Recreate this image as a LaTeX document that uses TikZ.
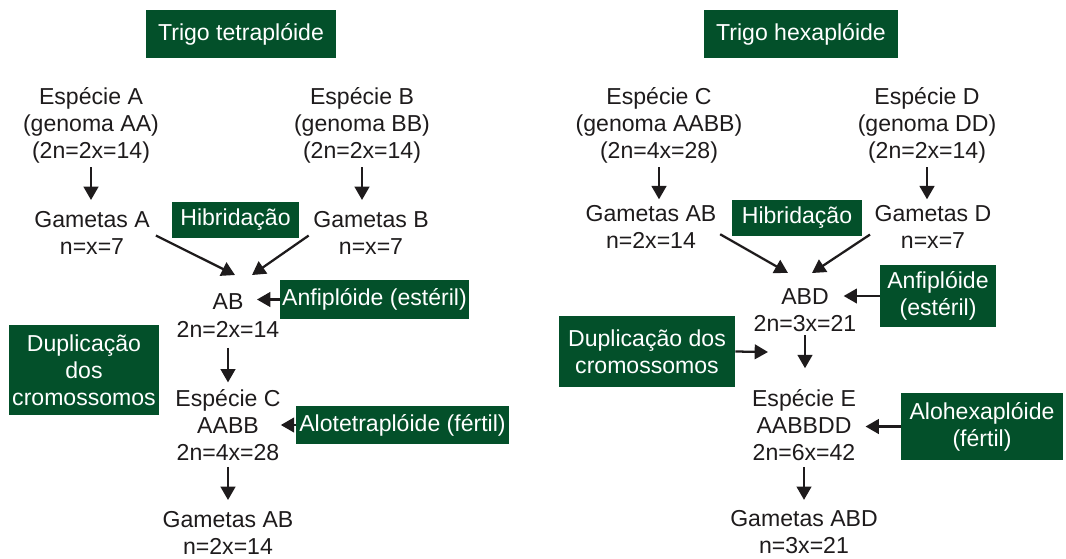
\documentclass[tikz,border=0pt]{standalone}
\usepackage{fontspec}
\setmainfont{Liberation Sans}
\usepackage{xcolor}
\usepackage{tikz}
\usetikzlibrary{arrows.meta}
\definecolor{wgreen}{HTML}{03502A}
\definecolor{wtext}{HTML}{1E1B1C}

\begin{document}
\begin{tikzpicture}[x=0.75pt, y=-0.75pt,
  every node/.style={font=\fontsize{17.3}{20.3}\selectfont, text=wtext, inner sep=0pt, align=center},
  gbox/.style={fill=wgreen, text=white},
  arr/.style={draw=wtext, line width=1.7pt, -{Triangle[length=10pt, width=11pt]}}]
\useasboundingbox (0,0) rectangle (1066,558);

% tetraploid wheat
\node[gbox, minimum width=142.5pt, minimum height=36pt] (ttlT) at (241,34) {Trigo tetraplóide};
\node (espA) at (91,125) {Espécie A\\(genoma AA)\\(2n=2x=14)};
\node (espB) at (362,125) {Espécie B\\(genoma BB)\\(2n=2x=14)};
\node (gamA) at (92,232.5) {Gametas A\\n=x=7};
\node (gamB) at (371,232.5) {Gametas B\\n=x=7};
\node[gbox, minimum width=95.25pt, minimum height=27pt] (hibL) at (235.5,220) {Hibridação};
\node (ab) at (228,302) {AB};
\node (abn) at (228,329) {2n=2x=14};
\node[gbox, minimum width=141.75pt, minimum height=29.25pt] (anfL) at (374.5,299.5) {Anfiplóide (estéril)};
\node[gbox, minimum width=112.5pt, minimum height=67.5pt] (dupL) at (84,370) {Duplicação\\dos\\cromossomos};
\node (espCL) at (228,425) {Espécie C\\AABB\\2n=4x=28};
\node[gbox, minimum width=159.75pt, minimum height=28.5pt] (aloL) at (402.5,425) {Alotetraplóide (fértil)};
\node (gamABL) at (228,532.5) {Gametas AB\\n=2x=14};
\coordinate (abInL) at (235,275);
\coordinate (abInR) at (252,275);

\draw[arr, shorten <=3pt, shorten >=8pt] (espA.south) -- (espA.south |- gamA.north);
\draw[arr, shorten <=3pt, shorten >=8pt] (espB.south) -- (espB.south |- gamB.north);
\draw[arr, shorten <=5pt] (gamA.east) -- (abInL);
\draw[arr, shorten <=4pt] (gamB.west) -- (abInR);
\draw[arr, shorten >=10pt] (anfL.west) -- (anfL.west -| ab.east);
\draw[arr, shorten <=8pt, shorten >=5pt] (abn.south) -- (abn.south |- espCL.north);
\draw[arr] (aloL.west) -- (aloL.west -| espCL.east);
\draw[arr, shorten <=4.5pt, shorten >=8pt] (espCL.south) -- (espCL.south |- gamABL.north);

% hexaploid wheat
\node[gbox, minimum width=145.5pt, minimum height=36pt] (ttlH) at (801,34) {Trigo hexaplóide};
\node (espCR) at (659,125) {Espécie C\\(genoma AABB)\\(2n=4x=28)};
\node (espD) at (927,125) {Espécie D\\(genoma DD)\\(2n=2x=14)};
\node (gamABR) at (651,226.5) {Gametas AB\\n=2x=14};
\node (gamD) at (933,226.5) {Gametas D\\n=x=7};
\node[gbox, minimum width=97.5pt, minimum height=27pt] (hibR) at (797,218) {Hibridação};
\node (abd) at (805,297) {ABD};
\node (abdn) at (805,324) {2n=3x=21};
\node[gbox, minimum width=87pt, minimum height=46.5pt] (anfR) at (938,296) {Anfiplóide\\(estéril)};
\node[gbox, minimum width=132pt, minimum height=53.25pt] (dupR) at (647,351.5) {Duplicação dos\\cromossomos};
\node (espE) at (804,425.5) {Espécie E\\AABBDD\\2n=6x=42};
\node[gbox, minimum width=121.5pt, minimum height=50.25pt] (aloR) at (982,426.5) {Alohexaplóide\\(fértil)};
\node (gamABD) at (804,532.5) {Gametas ABD\\n=3x=21};
\coordinate (abdInL) at (788,273);
\coordinate (abdInR) at (812,273);
\coordinate (dupTip) at (768,352);

\draw[arr, shorten <=3pt, shorten >=4pt] (espCR.south) -- (espCR.south |- gamABR.north);
\draw[arr, shorten <=3pt, shorten >=4pt] (espD.south) -- (espD.south |- gamD.north);
\draw[arr, shorten <=3pt] (gamABR.-5) -- (abdInL);
\draw[arr, shorten <=4pt] (gamD.185) -- (abdInR);
\draw[arr, shorten >=11pt] (anfR.west) -- (anfR.west -| abd.east);
\draw[arr] (dupR.east) -- (dupTip);
\draw[arr, shorten <=2pt, shorten >=16pt] (abdn.south) -- (abdn.south |- espE.north);
\draw[arr, shorten >=7pt] (aloR.west) -- (aloR.west -| espE.east);
\draw[arr, shorten <=4.5pt, shorten >=8pt] (espE.south) -- (espE.south |- gamABD.north);
\end{tikzpicture}
\end{document}
